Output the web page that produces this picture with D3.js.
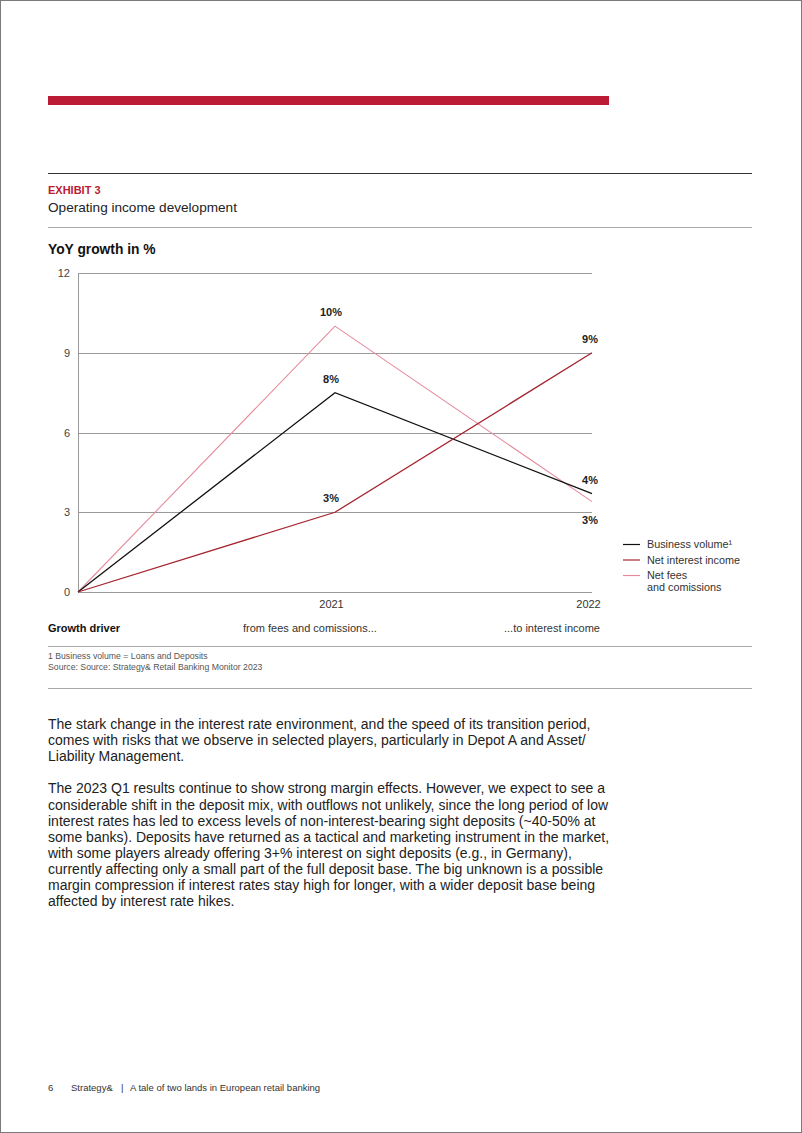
<!DOCTYPE html>
<html><head><meta charset="utf-8">
<script src="https://cdn.jsdelivr.net/npm/d3@7"></script>
<style>
html,body{margin:0;padding:0;background:#fff;}
svg{display:block;font-family:"Liberation Sans",Arial,Helvetica,sans-serif;}
</style></head>
<body>
<svg id="page" width="802" height="1133"></svg>
<script>
// ---- data ----
const categories = ["", "2021", "2022"];
const yTicks = [0, 3, 6, 9, 12];
const businessVolume = [0, 7.5, 3.7];
const netInterestIncome = [0, 3, 9];
const netFees = [0, 10, 3.4];
const seriesNames = ["Business volume\u00B9", "Net interest income", "Net fees", "and comissions"];
const pointLabels = [
  {series: "bv", i: 1, text: "8%"},
  {series: "bv", i: 2, text: "4%"},
  {series: "nii", i: 1, text: "3%"},
  {series: "nii", i: 2, text: "9%"},
  {series: "fees", i: 1, text: "10%"},
  {series: "fees", i: 2, text: "3%"}
];
const growthDriver = ["Growth driver", "from fees and comissions...", "...to interest income"];
const footnotes = ["1 Business volume = Loans and Deposits", "Source: Source: Strategy& Retail Banking Monitor 2023"];
const bodyText = [
  "The stark change in the interest rate environment, and the speed of its transition period,",
  "comes with risks that we observe in selected players, particularly in Depot A and Asset/",
  "Liability Management.",
  "",
  "The 2023 Q1 results continue to show strong margin effects. However, we expect to see a",
  "considerable shift in the deposit mix, with outflows not unlikely, since the long period of low",
  "interest rates has led to excess levels of non-interest-bearing sight deposits (~40-50% at",
  "some banks). Deposits have returned as a tactical and marketing instrument in the market,",
  "with some players already offering 3+% interest on sight deposits (e.g., in Germany),",
  "currently affecting only a small part of the full deposit base. The big unknown is a possible",
  "margin compression if interest rates stay high for longer, with a wider deposit base being",
  "affected by interest rate hikes."
];
const footer = ["6", "Strategy&", "|", "A tale of two lands in European retail banking"];

// ---- drawing ----
const svg = d3.select("#page");
const RED = "#bb1b34";
const colors = {bv: "#111111", nii: "#a5262f", fees: "#e58c9c"};
const series = {bv: businessVolume, nii: netInterestIncome, fees: netFees};

// page border
svg.append("rect").attr("x", 0.5).attr("y", 0.5).attr("width", 801).attr("height", 1132)
  .attr("fill", "none").attr("stroke", "#7a7a7a").attr("stroke-width", 1);

// red bar
svg.append("rect").attr("x", 48).attr("y", 96).attr("width", 561).attr("height", 9).attr("fill", RED);

// header rules
svg.append("line").attr("x1", 48).attr("x2", 752).attr("y1", 173.5).attr("y2", 173.5).attr("stroke", "#333").attr("stroke-width", 1);
svg.append("line").attr("x1", 48).attr("x2", 752).attr("y1", 227.5).attr("y2", 227.5).attr("stroke", "#aaa").attr("stroke-width", 1);
svg.append("text").attr("x", 48).attr("y", 194).attr("fill", RED).attr("font-size", 11).attr("font-weight", "bold").text("EXHIBIT 3");
svg.append("text").attr("x", 48).attr("y", 212).attr("fill", "#222").attr("font-size", 13.6).text("Operating income development");
svg.append("text").attr("x", 48).attr("y", 254).attr("fill", "#111").attr("font-size", 13.8).attr("font-weight", "bold").text("YoY growth in %");

// scales
const x = d3.scalePoint().domain(categories.map((c, i) => i)).range([78, 592]).padding(0);
const y = d3.scaleLinear().domain([0, 12]).range([592, 273]);

// gridlines
const g = svg.append("g");
g.selectAll("line.grid").data(yTicks).join("line").attr("class", "grid")
  .attr("x1", 78).attr("x2", 592).attr("y1", d => Math.round(y(d)) + 0.5).attr("y2", d => Math.round(y(d)) + 0.5)
  .attr("stroke", "#9a9a9a").attr("stroke-width", 1);
// y axis line
g.append("line").attr("x1", 78.5).attr("x2", 78.5).attr("y1", y(12)).attr("y2", y(0))
  .attr("stroke", "#9a9a9a").attr("stroke-width", 1);

// y tick labels via axis
const yAxis = d3.axisLeft(y).tickValues(yTicks).tickSize(0).tickPadding(8);
const ya = svg.append("g").attr("transform", "translate(78,0)").call(yAxis);
ya.select(".domain").remove();
ya.selectAll("text").attr("font-size", 11).attr("fill", "#444").attr("font-family", "Liberation Sans, Arial, sans-serif");

// x axis labels
const xAxis = d3.axisBottom(x).tickFormat(i => categories[i]).tickSize(0).tickPadding(8);
const xa = svg.append("g").attr("transform", "translate(-4,592)").call(xAxis);
xa.select(".domain").remove();
xa.selectAll("text").attr("font-size", 11).attr("fill", "#333").attr("font-family", "Liberation Sans, Arial, sans-serif");

// lines
const line = d3.line().x((d, i) => x(i)).y(d => y(d));
["fees", "bv", "nii"].forEach(k => {
  svg.append("path").datum(series[k]).attr("d", line).attr("fill", "none")
    .attr("stroke", colors[k]).attr("stroke-width", k === "fees" ? 1.1 : 1.3);
});

// point labels
const offsets = {"bv1": -10, "bv2": -10, "nii1": -10, "nii2": -10, "fees1": -10, "fees2": 22};
pointLabels.forEach(p => {
  const v = series[p.series][p.i];
  const key = p.series + p.i;
  const t = svg.append("text").attr("y", y(v) + offsets[key]).attr("font-size", 11).attr("font-weight", "bold").attr("fill", "#222").text(p.text);
  if (p.i === 2) t.attr("x", x(p.i) + 6).attr("text-anchor", "end");
  else t.attr("x", x(p.i) - 4).attr("text-anchor", "middle");
});

// legend
const legendItems = [
  {k: "bv", lines: [seriesNames[0]]},
  {k: "nii", lines: [seriesNames[1]]},
  {k: "fees", lines: [seriesNames[2], seriesNames[3]]}
];
let ly = 544;
legendItems.forEach(it => {
  svg.append("line").attr("x1", 623).attr("x2", 640).attr("y1", ly + 0.5).attr("y2", ly + 0.5)
    .attr("stroke", colors[it.k]).attr("stroke-width", 1.2);
  it.lines.forEach((s, j) => {
    svg.append("text").attr("x", 647).attr("y", ly + 4 + j * 12).attr("font-size", 10.8).attr("fill", "#333").text(s);
  });
  ly += 15.5;
});

// growth driver row
svg.append("text").attr("x", 48).attr("y", 632).attr("font-size", 11).attr("font-weight", "bold").attr("fill", "#111").text(growthDriver[0]);
svg.append("text").attr("x", 243).attr("y", 632).attr("font-size", 11).attr("fill", "#333").text(growthDriver[1]);
svg.append("text").attr("x", 600).attr("y", 632).attr("text-anchor", "end").attr("font-size", 11).attr("fill", "#333").text(growthDriver[2]);

// footnote rules
svg.append("line").attr("x1", 48).attr("x2", 752).attr("y1", 646.5).attr("y2", 646.5).attr("stroke", "#aaa");
svg.append("line").attr("x1", 48).attr("x2", 752).attr("y1", 688.5).attr("y2", 688.5).attr("stroke", "#aaa");
footnotes.forEach((f, i) => {
  svg.append("text").attr("x", 48).attr("y", 659 + i * 11).attr("font-size", 8.7).attr("fill", "#555").text(f);
});

// body text
const bt = svg.append("text").attr("font-size", 14).attr("fill", "#222");
bodyText.forEach((s, i) => {
  bt.append("tspan").attr("x", 48).attr("y", 729 + i * 16.1).text(s);
});

// footer
const footerX = [48, 71, 121, 130];
footer.forEach((s, i) => {
  svg.append("text").attr("x", footerX[i]).attr("y", 1091).attr("font-size", 9.5).attr("fill", "#333").text(s);
});
</script>
</body></html>
